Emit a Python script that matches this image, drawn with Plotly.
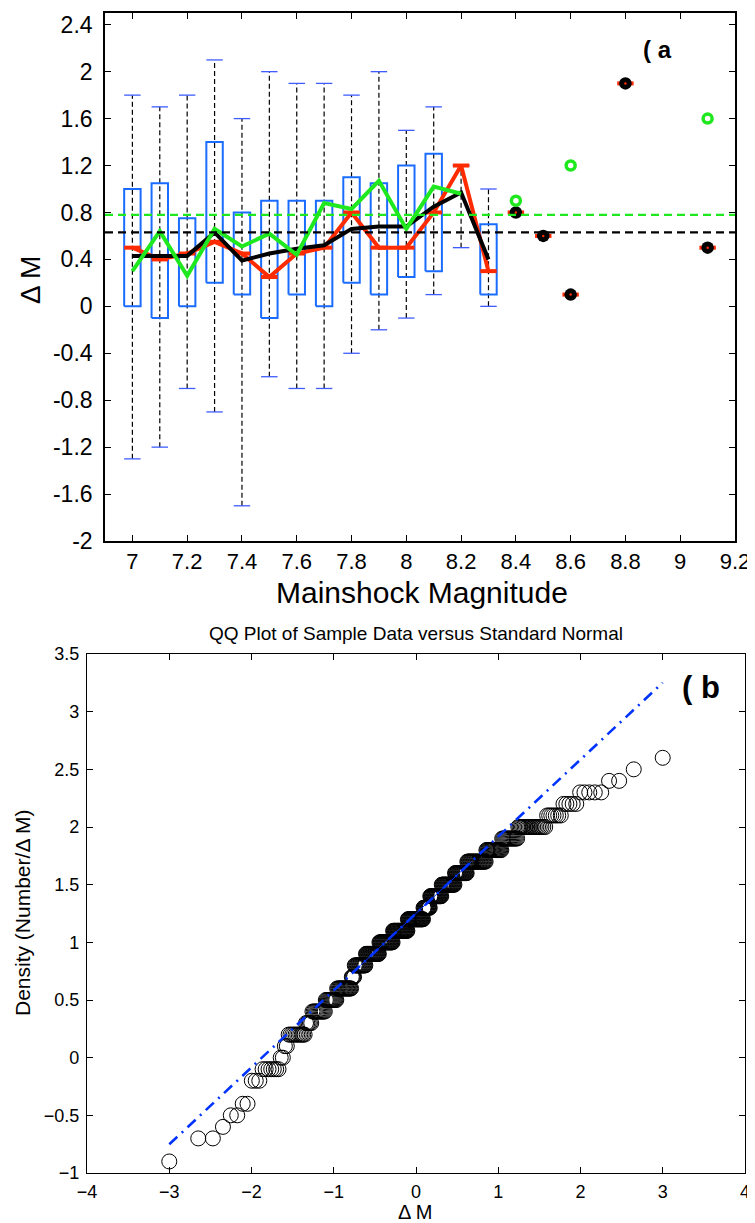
import numpy as np
import plotly.graph_objects as go
from statistics import NormalDist

# ---------------- Panel (a) data ----------------
mags = [7.0, 7.1, 7.2, 7.3, 7.4, 7.5, 7.6, 7.7, 7.8, 7.9, 8.0, 8.1, 8.2, 8.3]
whisk_hi = [1.8, 1.7, 1.8, 2.1, 1.6, 2.0, 1.9, 1.9, 1.8, 2.0, 1.5, 1.7, 1.2, 1.0]
box_hi = [1.0, 1.05, 0.75, 1.4, 0.8, 0.9, 0.9, 0.9, 1.1, 1.05, 1.2, 1.3, 1.2, 0.7]
box_lo = [0.0, -0.1, 0.0, 0.2, 0.1, -0.1, 0.1, 0.0, 0.2, 0.1, 0.25, 0.3, 1.2, 0.1]
whisk_lo = [-1.3, -1.2, -0.7, -0.9, -1.7, -0.6, -0.7, -0.7, -0.4, -0.2, -0.1, 0.1, 0.5, 0.0]
medians = [0.5, 0.4, 0.45, 0.55, 0.45, 0.25, 0.45, 0.5, 0.8, 0.5, 0.5, 0.8, 1.2, 0.3]
means = [0.43, 0.43, 0.43, 0.63, 0.39, 0.45, 0.49, 0.52, 0.66, 0.68, 0.68, 0.85, 0.97, 0.4]
green_mags = [7.0, 7.1, 7.2, 7.3, 7.4, 7.5, 7.6, 7.7, 7.8, 7.9, 8.0, 8.1, 8.2]
green_vals = [0.3, 0.64, 0.26, 0.66, 0.51, 0.62, 0.44, 0.88, 0.83, 1.07, 0.66, 1.02, 0.96]
single_mags = [8.4, 8.5, 8.6, 8.8, 9.1]
single_vals = [0.8, 0.6, 0.1, 1.9, 0.5]
green_single_mags = [8.4, 8.6, 9.1]
green_single_vals = [0.9, 1.2, 1.6]
mean_all = 0.63
green_all = 0.78

xticks_a = [7, 7.2, 7.4, 7.6, 7.8, 8, 8.2, 8.4, 8.6, 8.8, 9, 9.2]
xtick_text_a = ["7", "7.2", "7.4", "7.6", "7.8", "8", "8.2", "8.4", "8.6", "8.8", "9", "9.2"]
yticks_a = [-2, -1.6, -1.2, -0.8, -0.4, 0, 0.4, 0.8, 1.2, 1.6, 2, 2.4]
ytick_text_a = ["-2", "-1.6", "-1.2", "-0.8", "-0.4", "0", "0.4", "0.8", "1.2", "1.6", "2", "2.4"]

# ---------------- Panel (b) data ----------------
levels = [-0.9, -0.7, -0.6, -0.5, -0.4, -0.2, -0.1, 0.0, 0.1, 0.2, 0.3, 0.4, 0.5, 0.6, 0.7,
          0.8, 0.9, 1.0, 1.1, 1.2, 1.3, 1.4, 1.5, 1.6, 1.7, 1.8, 1.9, 2.0, 2.1, 2.2, 2.3,
          2.4, 2.5, 2.6]
counts = [1, 2, 1, 2, 2, 3, 7, 2, 2, 11, 5, 12, 12, 18, 4,
          16, 21, 23, 26, 28, 12, 20, 22, 19, 26, 18, 15, 19, 7, 5, 5,
          2, 1, 1]

FONT = "Liberation Sans, Arial, Helvetica, sans-serif"
BLUE = "#1a6cff"
CAP = "#3f5cff"
RED = "#ff2b00"
GREEN = "#1fe81f"

HW = 0.03  # half box width (style)

# page body has an 8px margin: size the figure so it fits the 755x1223 window
OFF = 8
W, H = 755 - OFF, 1223 - OFF


def fx(px):
    return (px - OFF) / W


def fy(py):
    return 1 - (py - OFF) / H


fig = go.Figure()

# boxes
bx, by = [], []
for m, lo, hi in zip(mags, box_lo, box_hi):
    bx += [m - HW, m + HW, m + HW, m - HW, m - HW, None]
    by += [lo, lo, hi, hi, lo, None]
# whiskers
wx, wy = [], []
for m, lo, hi in zip(mags, whisk_lo, whisk_hi):
    wx += [m, m, None]
    wy += [lo, hi, None]
# caps
cx, cy = [], []
for m, lo, hi in zip(mags, whisk_lo, whisk_hi):
    cx += [m - HW, m + HW, None, m - HW, m + HW, None]
    cy += [lo, lo, None, hi, hi, None]
# median ticks
mx, my = [], []
for m, v in list(zip(mags, medians)) + list(zip(single_mags, single_vals)):
    mx += [m - HW, m + HW, None]
    my += [v, v, None]

fig.add_trace(go.Scatter(x=wx, y=wy, mode="lines", line=dict(color="black", width=1.2, dash="5px,3px"),
                         xaxis="x", yaxis="y", showlegend=False, hoverinfo="skip"))
fig.add_trace(go.Scatter(x=bx, y=by, mode="lines", line=dict(color=BLUE, width=2),
                         xaxis="x", yaxis="y", showlegend=False, hoverinfo="skip"))
fig.add_trace(go.Scatter(x=cx, y=cy, mode="lines", line=dict(color=CAP, width=1.3),
                         xaxis="x", yaxis="y", showlegend=False, hoverinfo="skip"))

# reference dashed lines
for val, col in [(green_all, GREEN), (mean_all, "black")]:
    fig.add_shape(type="line", xref="x domain", yref="y", x0=0, x1=1, y0=val, y1=val,
                  line=dict(color=col, width=2.2, dash="8px,5px"), layer="above")

fig.add_trace(go.Scatter(x=mx, y=my, mode="lines", line=dict(color=RED, width=4),
                         xaxis="x", yaxis="y", showlegend=False, hoverinfo="skip"))
fig.add_trace(go.Scatter(x=mags, y=medians, mode="lines", line=dict(color=RED, width=4),
                         xaxis="x", yaxis="y", showlegend=False, hoverinfo="skip"))
fig.add_trace(go.Scatter(x=mags, y=means, mode="lines", line=dict(color="black", width=4),
                         xaxis="x", yaxis="y", showlegend=False, hoverinfo="skip"))
fig.add_trace(go.Scatter(x=green_mags, y=green_vals, mode="lines", line=dict(color=GREEN, width=4),
                         xaxis="x", yaxis="y", showlegend=False, hoverinfo="skip"))
fig.add_trace(go.Scatter(x=single_mags, y=single_vals, mode="markers",
                         marker=dict(color="black", size=12.5, line=dict(width=0)),
                         xaxis="x", yaxis="y", showlegend=False, hoverinfo="skip"))
fig.add_trace(go.Scatter(x=single_mags, y=single_vals, mode="markers",
                         marker=dict(color=RED, size=2.5, line=dict(width=0)),
                         xaxis="x", yaxis="y", showlegend=False, hoverinfo="skip"))
fig.add_trace(go.Scatter(x=green_single_mags, y=green_single_vals, mode="markers",
                         marker=dict(symbol="circle-open", color=GREEN, size=9, line=dict(width=3.5, color=GREEN)),
                         xaxis="x", yaxis="y", showlegend=False, hoverinfo="skip"))

# ---------------- Panel (b) ----------------
sample = np.repeat(np.array(levels), np.array(counts))
n = len(sample)
nd = NormalDist()
theo = np.array([nd.inv_cdf((i - 0.5) / n) for i in range(1, n + 1)])
q1, q3 = np.percentile(sample, [25, 75])
z1, z3 = nd.inv_cdf(0.25), nd.inv_cdf(0.75)
slope = (q3 - q1) / (z3 - z1)
line_x = np.array([theo.min(), theo.max()])
line_y = q1 + slope * (line_x - z1)
solid_x = np.array([z1, z3])
solid_y = q1 + slope * (solid_x - z1)

fig.add_trace(go.Scatter(x=theo, y=sample, mode="markers",
                         marker=dict(symbol="circle-open", size=15, color="black", line=dict(width=1, color="black")),
                         xaxis="x2", yaxis="y2", showlegend=False, hoverinfo="skip"))
fig.add_trace(go.Scatter(x=line_x, y=line_y, mode="lines",
                         line=dict(color="#0033ff", width=2.6, dash="11px,6px,2px,6px"),
                         xaxis="x2", yaxis="y2", showlegend=False, hoverinfo="skip"))
fig.add_trace(go.Scatter(x=solid_x, y=solid_y, mode="lines",
                         line=dict(color="#0033ff", width=1),
                         xaxis="x2", yaxis="y2", showlegend=False, hoverinfo="skip"))

ax_common = dict(showline=True, linecolor="black", mirror="ticks", ticks="inside", automargin=False,
                 tickcolor="black", showgrid=False, zeroline=False)

fig.update_layout(
    width=W, height=H, margin=dict(l=0, r=0, t=0, b=0),
    paper_bgcolor="white", plot_bgcolor="white",
    font=dict(family=FONT, color="black"),
    xaxis=dict(domain=[fx(105), fx(735)], range=[6.9, 9.2], anchor="y",
               tickvals=xticks_a, ticktext=xtick_text_a, ticklen=6, linewidth=1.6, tickwidth=1.2,
               tickfont=dict(size=22), ticklabelstandoff=0, **ax_common),
    yaxis=dict(domain=[fy(541), fy(13)], range=[-2, 2.5], anchor="x",
               tickvals=yticks_a, ticktext=ytick_text_a, ticklen=6, linewidth=1.6, tickwidth=1.2,
               tickfont=dict(size=23), ticklabelstandoff=6, **ax_common),
    xaxis2=dict(domain=[fx(87), fx(745)], range=[-4, 4], anchor="y2", dtick=1,
                ticklen=6, linewidth=1.2, tickwidth=1, tickfont=dict(size=18), ticklabelstandoff=2, **ax_common),
    yaxis2=dict(domain=[fy(1173), fy(654)], range=[-1, 3.5], anchor="x2", dtick=0.5,
                ticklen=6, linewidth=1.2, tickwidth=1, tickfont=dict(size=18), ticklabelstandoff=3, **ax_common),
)

ann = [
    dict(text="<b>( a</b>", x=fx(641), y=fy(50), xanchor="left", yanchor="middle",
         font=dict(size=24, family=FONT)),
    dict(text="<b>( b</b>", x=fx(680), y=fy(687), xanchor="left", yanchor="middle",
         font=dict(size=31, family=FONT)),
    dict(text="Mainshock Magnitude", x=fx(422), y=fy(592), xanchor="center", yanchor="middle",
         font=dict(size=30, family=FONT)),
    dict(text="Δ M", x=fx(30), y=fy(280), xanchor="center", yanchor="middle", textangle=-90,
         font=dict(size=28, family=FONT)),
    dict(text="QQ Plot of Sample Data versus Standard Normal", x=fx(416), y=fy(633), xanchor="center",
         yanchor="middle", font=dict(size=19, family=FONT)),
    dict(text="Δ M", x=fx(415), y=fy(1212), xanchor="center", yanchor="middle", font=dict(size=20, family=FONT)),
    dict(text="Density (Number/Δ M)", x=fx(22), y=fy(913), xanchor="center", yanchor="middle", textangle=-90,
         font=dict(size=21, family=FONT)),
]
for a in ann:
    a.update(xref="paper", yref="paper", showarrow=False)
fig.update_layout(annotations=ann)

fig.write_html("out.html")
